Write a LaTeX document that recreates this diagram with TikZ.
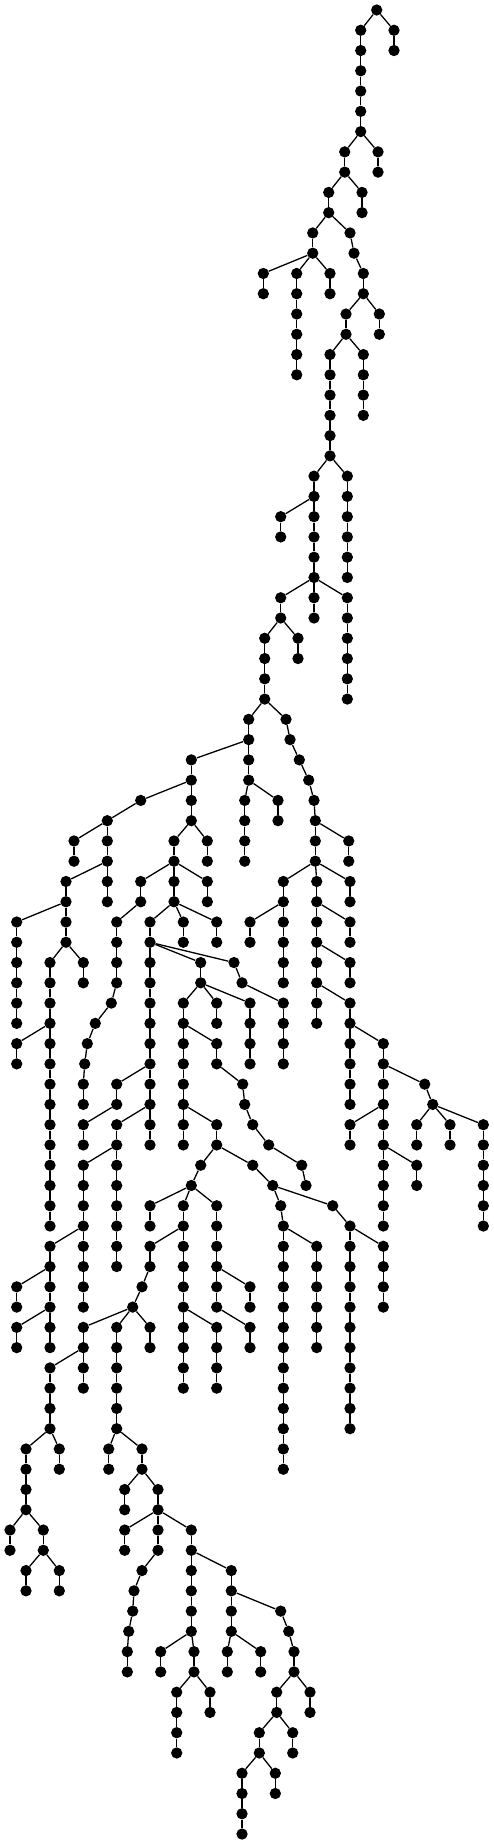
\documentclass[tikz,border=0pt]{standalone}
\tikzset{dot/.style={circle,fill=black,draw=none,inner sep=0pt,minimum size=11.3pt},link/.style={black,line width=1.3pt}}
\begin{document}
\begin{tikzpicture}
\useasboundingbox (0pt,0pt) rectangle (494pt,-1844pt);
\node[dot] (n3767-0) at (376.7pt,-10pt) {};
\foreach \x/\l/\p in {
3607/1/3767,3940/1/3767,3940/2/3940,3607/2/3607,3607/3/3607,3607/4/3607,3607/5/3607,3607/6/3607,
3447/7/3607,3780/7/3607,3780/8/3780,3447/8/3447,3287/9/3447,3620/9/3447,3620/10/3620,
3287/10/3287,3127/11/3287,3500/11/3287,3127/12/3127,3540/12/3500,3633/13/3540,3633/14/3633,
2633/13/3127,2967/13/3127,3300/13/3127,2633/14/2633,2967/14/2967,3300/14/3300,
2967/15/2967,2967/16/2967,2967/17/2967,2967/18/2967,
3460/15/3633,3793/15/3633,3793/16/3793,3460/16/3460,3300/17/3460,3633/17/3460,
3633/18/3633,3633/19/3633,3633/20/3633,
3300/18/3300,3300/19/3300,3300/20/3300,3300/21/3300,3300/22/3300,
3140/23/3300,3473/23/3300,3473/24/3473,3473/25/3473,3473/26/3473,3473/27/3473,3473/28/3473,
3140/24/3140,2807/25/3140,3140/25/3140,2807/26/2807,3140/26/3140,3140/27/3140,3140/28/3140,
2807/29/3140,3140/29/3140,3473/29/3140,3140/30/3140,
3473/30/3473,3473/31/3473,3473/32/3473,3473/33/3473,3473/34/3473,
2807/30/2807,2647/31/2807,2980/31/2807,2980/32/2980,2647/32/2647,2647/33/2647,2647/34/2647,
2487/35/2647,2860/35/2647,2900/36/2860,2993/37/2900,3087/38/2993,3140/39/3087,3153/40/3140,
3153/41/3153,3153/42/3153,3487/41/3153,3487/42/3487,
2487/36/2487,1913/37/2487,2487/37/2487,2487/38/2487,2447/39/2487,2780/39/2487,2780/40/2780,
2447/40/2447,2447/41/2447,2447/42/2447,
1913/38/1913,1407/39/1913,1913/39/1913,1913/40/1913,1740/41/1913,2073/41/1913,2073/42/2073,1740/42/1740,
1073/40/1407,740/41/1073,1073/41/1073,740/42/740,1073/42/1073,
660/43/1073,1073/43/1073,1073/44/1073,660/44/660,167/45/660,660/45/660,
167/46/167,167/47/167,167/48/167,167/49/167,167/50/167,
660/46/660,500/47/660,833/47/660,833/48/833,500/48/500,500/49/500,500/50/500,
167/51/500,500/51/500,167/52/167,500/52/500,500/53/500,500/54/500,500/55/500,500/56/500,500/57/500,500/58/500,500/59/500,500/60/500,
1407/43/1740,1740/43/1740,2073/43/1740,2073/44/2073,1407/44/1407,
1167/45/1407,1167/46/1167,1167/47/1167,1167/48/1167,1113/49/1167,953/50/1113,873/51/953,847/52/873,833/53/847,833/54/833,
1740/44/1740,1500/45/1740,1833/45/1740,2167/45/1740,1833/46/1833,2167/46/2167,1500/46/1500,
1500/47/1500,2007/47/1500,2340/47/1500,2420/48/2340,2007/48/2007,
1833/49/2007,2167/49/2007,2500/49/2007,2167/50/2167,1833/50/1833,1833/51/1833,2167/51/1833,2167/52/2167,
2500/50/2500,2500/51/2500,2500/52/2500,
2833/49/2420,2833/50/2833,2833/51/2833,2833/52/2833,
1500/48/1500,1500/49/1500,1500/50/1500,1500/51/1500,1500/52/1500,
1167/53/1500,1500/53/1500,1167/54/1167,833/55/1167,833/56/833,
1500/54/1500,1167/55/1500,1500/55/1500,1500/56/1500,1167/56/1167,
833/57/1167,1167/57/1167,1167/58/1167,1167/59/1167,1167/60/1167,1167/61/1167,1167/62/1167,
833/58/833,833/59/833,833/60/833,500/61/833,833/61/833,833/62/833,833/63/833,833/64/833,
500/62/500,167/63/500,500/63/500,167/64/167,500/64/500,167/65/500,500/65/500,167/66/167,500/66/500,
2427/53/2167,2447/54/2427,2527/55/2447,2687/56/2527,3017/57/2687,3060/58/3017,
1833/52/1833,1833/53/1833,1833/54/1833,1833/55/1833,2167/55/1833,1833/56/1833,2167/56/2167,
2007/57/2167,2527/57/2167,
1913/58/2007,1500/59/1913,1833/59/1913,2167/59/1913,1500/60/1500,1833/60/1833,
1500/61/1833,1833/61/1833,1500/62/1500,1420/63/1500,1327/64/1420,
833/65/1327,1167/65/1327,1500/65/1327,1500/66/1500,833/66/833,
500/67/833,833/67/833,833/68/833,500/68/500,500/69/500,500/70/500,
260/71/500,593/71/500,593/72/593,260/72/260,260/73/260,260/74/260,
100/75/260,433/75/260,100/76/100,433/76/433,260/77/433,593/77/433,260/78/260,593/78/593,
1167/66/1167,1167/67/1167,1167/68/1167,1167/69/1167,1167/70/1167,
1087/71/1167,1420/71/1167,1087/72/1087,1420/72/1420,1247/73/1420,1580/73/1420,1247/74/1247,1580/74/1580,
1247/75/1580,1580/75/1580,1913/75/1580,1247/76/1247,1580/76/1580,
1420/77/1580,1340/78/1420,1327/79/1340,1287/80/1327,1273/81/1287,1273/82/1273,
1913/76/1913,1913/77/1913,2313/77/1913,1913/78/1913,1913/79/1913,1913/80/1913,
1607/81/1913,1940/81/1913,1607/82/1607,1940/82/1940,1767/83/1940,2100/83/1940,2100/84/2100,
1767/84/1767,1767/85/1767,1767/86/1767,
2313/78/2313,2313/79/2313,2807/79/2313,2313/80/2313,2273/81/2313,2607/81/2313,2273/82/2273,2607/82/2607,
2887/80/2807,2940/81/2887,2940/82/2940,2767/83/2940,3100/83/2940,3100/84/3100,2767/84/2767,
2593/85/2767,2927/85/2767,2927/86/2927,2593/86/2593,2420/87/2593,2753/87/2593,2753/88/2753,
2420/88/2420,2420/89/2420,2420/90/2420,
1833/62/1833,1833/63/1833,1833/64/1833,1833/65/1833,2167/65/1833,
1833/66/1833,1833/67/1833,1833/68/1833,2167/66/2167,2167/67/2167,2167/68/2167,
2167/60/2167,2167/61/2167,2167/62/2167,2167/63/2167,2500/63/2167,2500/64/2500,2167/64/2167,2500/65/2167,2500/66/2500,
2727/58/2527,2807/59/2727,3327/59/2727,2833/60/2807,2833/61/2833,3167/61/2833,
3167/62/3167,3167/63/3167,3167/64/3167,3167/65/3167,3167/66/3167,
2833/62/2833,2833/63/2833,2833/64/2833,2833/65/2833,2833/66/2833,2833/67/2833,2833/68/2833,2833/69/2833,2833/70/2833,2833/71/2833,2833/72/2833,
3500/60/3327,3500/61/3500,3500/62/3500,3500/63/3500,3500/64/3500,3500/65/3500,3500/66/3500,3500/67/3500,3500/68/3500,3500/69/3500,3500/70/3500,
3833/61/3500,3833/62/3833,3833/63/3833,3833/64/3833,
2833/43/3153,2833/44/2833,2500/45/2833,2833/45/2833,2500/46/2500,2833/46/2833,2833/47/2833,2833/48/2833,
3167/43/3153,3167/44/3167,3167/45/3167,3500/45/3167,3500/46/3500,3167/46/3167,3167/47/3167,3500/47/3167,3500/48/3500,
3167/48/3167,3167/49/3167,3500/49/3167,3167/50/3167,3500/50/3500,3500/51/3500,3833/51/3500,
3500/52/3500,3500/53/3500,3500/54/3500,3833/52/3833,3833/53/3833,4247/53/3833,3833/54/3833,
3500/55/3833,3833/55/3833,3500/56/3500,3833/56/3833,3833/57/3833,4167/57/3833,4167/58/4167,
3833/58/3833,3833/59/3833,3833/60/3833,
4327/54/4247,4167/55/4327,4500/55/4327,4833/55/4327,4167/56/4167,4500/56/4500,4833/56/4833,
4833/57/4833,4833/58/4833,4833/59/4833,4833/60/4833,
3500/43/3153,3500/44/3500}
{
  \pgfmathtruncatemacro{\pl}{\l-1}
  \pgfmathsetmacro{\px}{\x*0.1}
  \pgfmathsetmacro{\py}{-(10+20.267*\l)}
  \node[dot] (n\x-\l) at (\px pt,\py pt) {};
  \draw[link] (n\p-\pl) -- (n\x-\l);
}
\end{tikzpicture}
\end{document}
